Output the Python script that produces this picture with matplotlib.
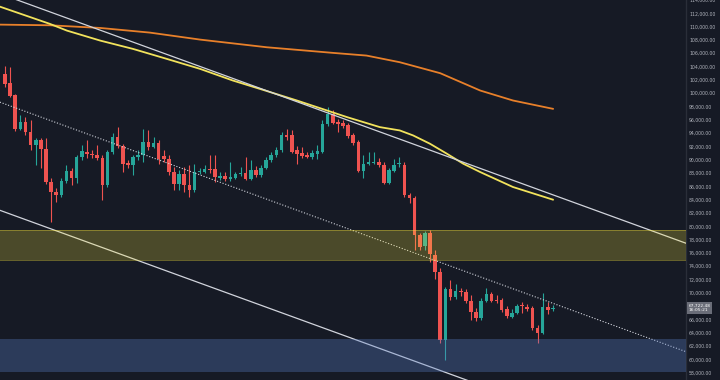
import numpy as np
import matplotlib.pyplot as plt
from matplotlib.transforms import blended_transform_factory

# daily candles
opens = [102900, 101600, 99650, 94550, 95600, 94100, 92150, 92900, 91550, 86600,
         85100, 84650, 86750, 88250, 87200, 90350, 91100, 90800, 90700, 90200,
         86150, 91100, 93350, 92000, 89450, 89150, 90350, 90650, 92650, 91900,
         92500, 90500, 90150, 88150, 86400, 87800, 86150, 85400, 88100, 88150,
         88550, 88550, 87300, 87550, 87050, 87300, 87800, 88000, 87150, 88400,
         87650, 88750, 89900, 90650, 91400, 93750, 93750, 91400, 91050, 90650,
         90400, 90900, 91150, 95300, 96900, 95650, 95500, 95150, 93650, 92650,
         88300, 89400, 89500, 89650, 89250, 86500, 88300, 89300, 89250, 84650,
         84300, 78650, 77000, 79000, 75650, 73150, 62900, 70500, 69300, 70300,
         70150, 68800, 67050, 66150, 68800, 69800, 68900, 68900, 67500, 66400,
         67000, 68100, 67900, 67650, 64650, 64000, 67900, 67500]
closes = [101400, 99550, 94550, 95600, 94100, 92150, 92900, 91550, 86600, 85100,
          84650, 86750, 88250, 87200, 90350, 91250, 90800, 90650, 90200, 86150,
          91100, 93350, 92000, 89300, 89150, 90350, 90700, 92650, 91900, 92500,
          90150, 90050, 88150, 86400, 87800, 86150, 85400, 88150, 88300, 88550,
          88400, 87400, 87550, 87050, 87350, 87800, 88000, 87150, 88400, 87650,
          88750, 89900, 90650, 91500, 93650, 93400, 91150, 90900, 90550, 90400,
          91000, 91300, 95400, 96900, 95500, 95300, 95000, 93500, 92500, 88300,
          89400, 89650, 89650, 89150, 86500, 88400, 89250, 89450, 84650, 84300,
          78650, 76900, 79000, 75800, 73150, 62900, 70500, 69300, 70300, 70050,
          68800, 67050, 66150, 68800, 69800, 68800, 68750, 67400, 66500, 67000,
          68000, 67950, 67550, 64650, 64000, 67900, 67400, 67722.48]
highs = [104150, 103900, 99950, 96650, 96350, 95900, 93200, 93200, 93200, 87200,
         85700, 87200, 89150, 88700, 90650, 92150, 92900, 91400, 92150, 90650,
         91400, 93950, 94850, 92300, 89900, 90650, 91400, 94550, 94400, 93400,
         92900, 91400, 90650, 88900, 88400, 88900, 89150, 89400, 88700, 89150,
         90650, 90650, 88100, 88100, 89650, 88100, 88850, 90400, 89900, 89000,
         89150, 90350, 91100, 91850, 94100, 94550, 94400, 92000, 91900, 91100,
         91400, 92150, 95900, 97900, 97400, 96050, 95900, 95450, 93950, 92900,
         90650, 91150, 91150, 90200, 89600, 88700, 90150, 90400, 89600, 84950,
         84500, 78950, 79250, 79400, 76400, 73700, 70850, 71900, 71400, 70700,
         70550, 69650, 67700, 69200, 70650, 70100, 69650, 69200, 68000, 67550,
         68300, 68650, 68300, 68000, 65150, 70000, 68650, 68150]
lows = [101000, 99350, 94250, 94400, 93650, 91400, 89150, 88700, 86300, 80600,
        83600, 84350, 86450, 86150, 86450, 89900, 90200, 90200, 89900, 83900,
        85850, 90800, 91700, 88100, 88700, 87650, 89900, 89650, 91400, 91700,
        89400, 89600, 87650, 85400, 85400, 85150, 84400, 85100, 87800, 87950,
        87950, 86650, 86900, 86750, 86750, 87050, 87500, 86900, 86900, 87350,
        87350, 88550, 89600, 90350, 91100, 92900, 90950, 89400, 90200, 90200,
        90150, 90150, 90950, 95000, 95300, 94150, 94700, 93200, 92150, 88100,
        87300, 89150, 89300, 88850, 86300, 86300, 88100, 88900, 84350, 83450,
        76400, 76400, 76400, 74650, 72150, 62450, 59900, 68900, 69050, 69500,
        68450, 65900, 65750, 65900, 68600, 68600, 68450, 67100, 66200, 66200,
        66800, 66900, 67250, 64400, 62400, 63800, 66800, 67250]

# moving averages (sampled along the curve)
ma_slow_x = [-1, 8.8, 18.6, 28.3, 38.1, 51.1, 64.1, 70.6, 77.1, 85, 92.8, 99.2, 107]
ma_slow = [110300, 110200, 109800, 109100, 108050, 106900, 106050, 105650, 104650, 103000, 100400, 98900, 97650]
ma_fast_x = [-1, 8.8, 12.1, 18.6, 25, 31.6, 38.1, 44.5, 50.8, 57, 66.8, 73.2, 77.1, 79.7, 83, 86.3, 89.5, 92.8, 99.2, 107]
ma_fast = [113000, 110400, 109400, 107900, 106650, 105150, 103650, 101900, 100400, 98900, 96400, 94900,
           94400, 93650, 92400, 90900, 89400, 88150, 85900, 84000]

# trendlines: [start index, end index], [start price, end price]
line_x = [-1, 133]
upper_line = [114950, 77450]
mid_line = [98650, 61150]
lower_line = [82400, 44900]

# zones
resistance_zone = (75000, 79400)
support_zone = (58150, 63050)

y_ticks = list(range(58000, 116000, 2000))
hidden_tick = 68000  # sits behind the last price label

bg = '#161a25'
up_col = '#26a69a'
down_col = '#ef5350'

fig = plt.figure(figsize=(7.2, 3.8), dpi=100)
fig.patch.set_facecolor(bg)
ax = fig.add_axes([0, 0, 686 / 720, 1])
ax.set_facecolor(bg)

x = np.arange(len(opens))
o = np.array(opens)
c = np.array(closes)
cols = [up_col if cc >= oo else down_col for oo, cc in zip(o, c)]

# wicks and bodies
ax.vlines(x, lows, highs, colors=cols, lw=0.8, zorder=2)
body_bottom = np.minimum(o, c)
body_height = np.maximum(np.abs(c - o), 120)
ax.bar(x, body_height, bottom=body_bottom, width=0.7, color=cols, lw=0, zorder=2)

# moving averages
ax.plot(ma_slow_x, ma_slow, color='#e8802a', lw=1.3, zorder=3)
ax.plot(ma_fast_x, ma_fast, color='#f2e35c', lw=1.3, zorder=3)

# channel lines
ax.plot(line_x, upper_line, color='#d1d4dc', lw=0.9, zorder=3)
ax.plot(line_x, lower_line, color='#d1d4dc', lw=0.9, zorder=3)
ax.plot(line_x, mid_line, color='#d1d4dc', lw=0.8, ls=(0, (1, 1.6)), zorder=3)

# zones
ax.axhspan(*resistance_zone, color='#ffeb3b', alpha=0.23, lw=0, zorder=4)
for v in resistance_zone:
    ax.axhline(v, color='#ffeb3b', alpha=0.35, lw=0.7, zorder=4)
ax.axhspan(*support_zone, color='#5b7fc7', alpha=0.33, lw=0, zorder=4)

ax.set_xlim(-0.98, 133)
ax.set_ylim(56900, 113905)

ax.set_xticks([])
ax.yaxis.tick_right()
ax.set_yticks(y_ticks)
ax.set_yticklabels(['' if v == hidden_tick else f'{v:,.2f}' for v in y_ticks])
ax.tick_params(axis='y', length=0, pad=2.2, labelsize=3.3, labelcolor='#b2b5be')
for s in ['top', 'left', 'bottom']:
    ax.spines[s].set_visible(False)
ax.spines['right'].set_color('#2a2e39')
ax.spines['right'].set_linewidth(1)

# last price label
trans = blended_transform_factory(ax.transAxes, ax.transData)
ax.text(1.004, closes[-1], f'{closes[-1]:,.2f}\n16:05:21', transform=trans,
        ha='left', va='center', fontsize=3.2, color='#ffffff', linespacing=1.3,
        bbox=dict(boxstyle='square,pad=0.35', fc='#6a6d78', ec='none'),
        clip_on=False, zorder=6)

plt.savefig('out.png', dpi=100, facecolor=bg)
